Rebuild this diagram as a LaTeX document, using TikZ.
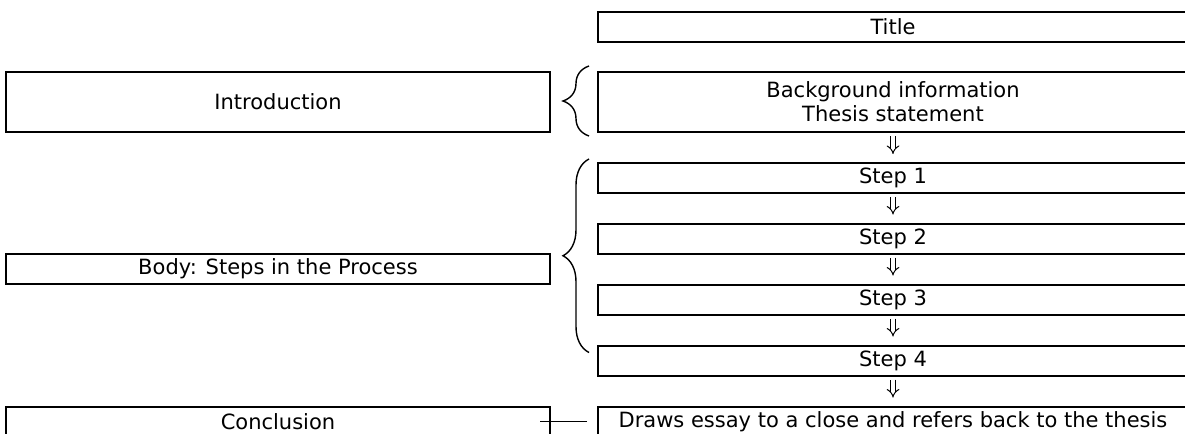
\documentclass[tikz,border=0pt]{standalone}
\usepackage{fontspec}
\setmainfont{DejaVu Sans}
\usetikzlibrary{arrows.meta,decorations.pathreplacing}
\begin{document}
\begin{tikzpicture}[x=0.5pt,y=-0.5pt,
  box/.style={draw, line width=1pt, inner sep=0pt, align=center, font=\fontsize{10.5}{12}\selectfont},
  rbox/.style={box, minimum width=295pt, minimum height=15pt},
  lbox/.style={box, minimum width=272pt, minimum height=15pt},
  flow/.style={double, double distance=1.7pt, line width=0.5pt, -{Implies[length=3.5pt,width=8pt]}, shorten <=1.5pt, shorten >=4pt},
  brc/.style={decorate, decoration={brace, amplitude=13pt}, line width=0.7pt}]
\useasboundingbox (0,0) rectangle (1185,434);
% right column
\node[rbox] (title) at (893,27) {Title};
\node[rbox, minimum height=30pt] (bg) at (893,102) {Background information\\Thesis statement};
\node[rbox] (s1) at (893,178) {Step 1};
\node[rbox] (s2) at (893,238.5) {Step 2};
\node[rbox] (s3) at (893,299.5) {Step 3};
\node[rbox] (s4) at (893,360.5) {Step 4};
\node[rbox] (concR) at (893,421.5) {Draws essay to a close and refers back to the thesis};
% left column
\node[lbox, minimum height=30pt] (intro) at (278,102) {Introduction};
\node[lbox] (body) at (278,268.5) {Body: Steps in the Process};
\node[lbox] (concL) at (278,421.5) {Conclusion};
% arrows
\draw[flow] (bg) -- (s1);
\draw[flow] (s1) -- (s2);
\draw[flow] (s2) -- (s3);
\draw[flow] (s3) -- (s4);
\draw[flow] (s4) -- (concR);
% braces
\draw[brc] ([xshift=-4pt,yshift=-1.5pt]bg.south west) -- ([xshift=-4pt,yshift=2.5pt]bg.north west);
\draw[brc] ([xshift=-4pt,yshift=-4pt]s4.north west) -- ([xshift=-4pt,yshift=1.5pt]s1.north west);
\draw[line width=0.6pt] ([xshift=-5pt]concR.west) -- ([xshift=-5.5pt]concL.east);
\end{tikzpicture}
\end{document}
